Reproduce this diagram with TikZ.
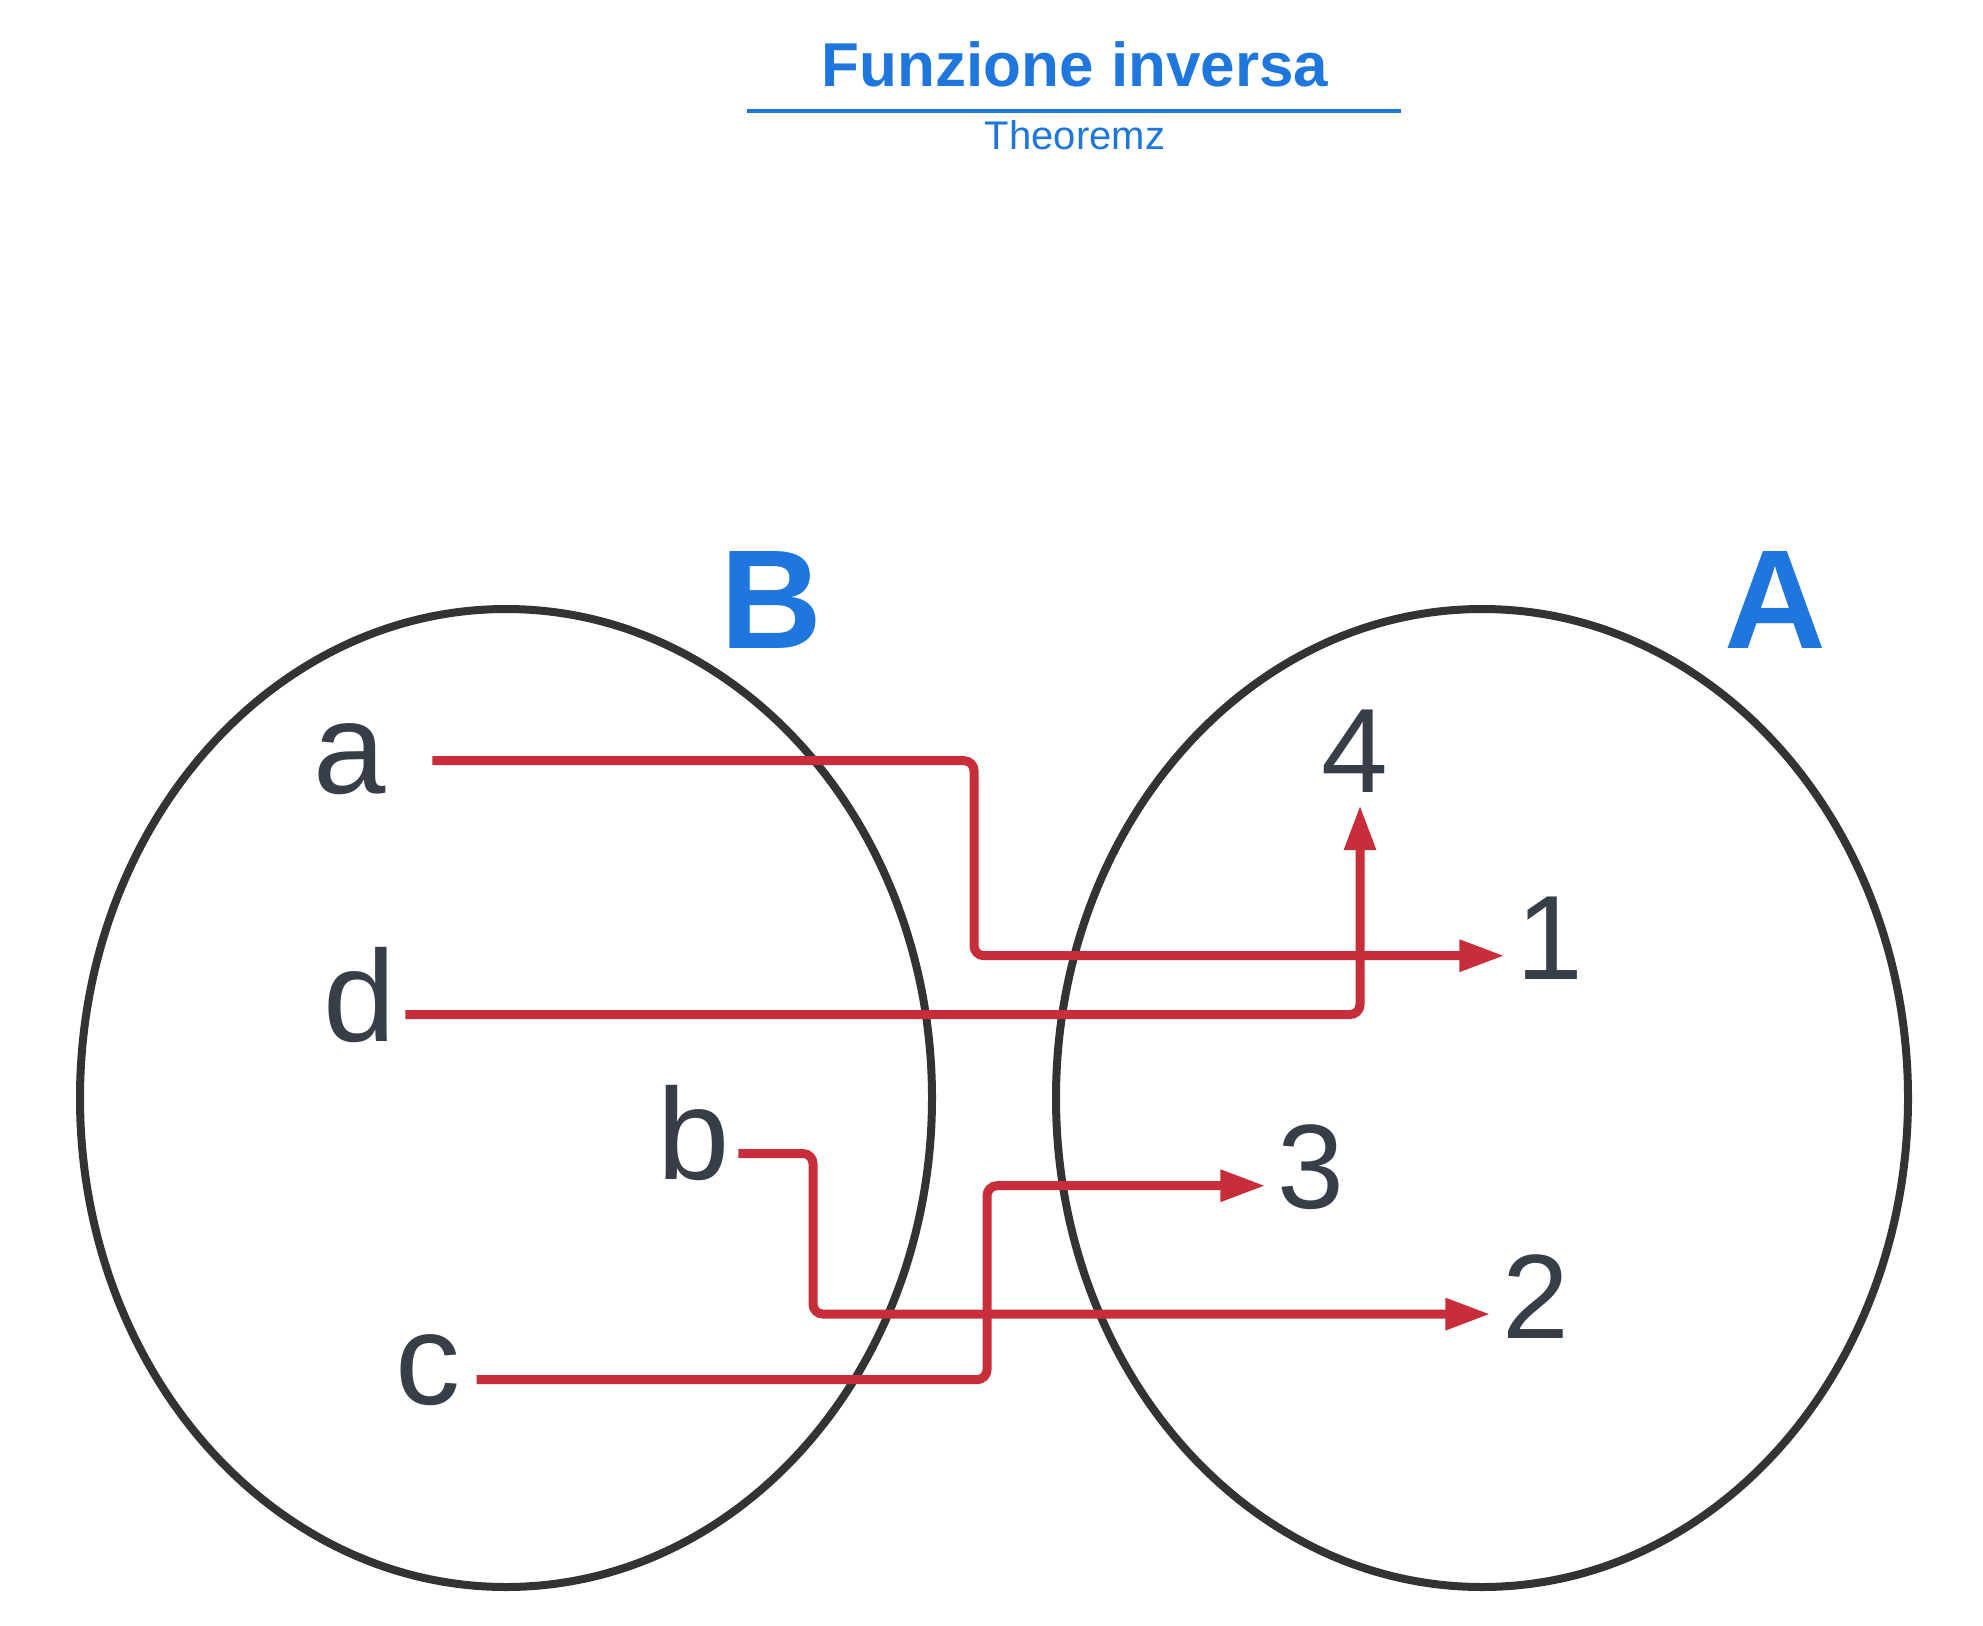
\documentclass[tikz,border=0pt]{standalone}
\usepackage{fontspec}
\setmainfont{Liberation Sans}
\usetikzlibrary{arrows.meta}
\definecolor{tzblue}{RGB}{31,119,221}
\definecolor{tzred}{RGB}{200,45,58}
\definecolor{tzgray}{RGB}{56,62,72}
\definecolor{tzdark}{RGB}{51,51,51}

\begin{document}
\begin{tikzpicture}[x=1pt, y=-1pt,
    setline/.style={draw=tzdark, line width=8pt},
    lbl/.style={inner sep=0pt, anchor=base, text=tzgray, font=\fontsize{130}{150}\selectfont},
    num/.style={inner sep=0pt, anchor=base, text=tzgray, font=\fontsize{120}{140}\selectfont},
    setname/.style={inner sep=0pt, anchor=base, text=tzblue, font=\bfseries\fontsize{141}{160}\selectfont},
    arr/.style={-{Triangle[length=45pt,width=30pt]}, draw=tzred, line width=9pt, rounded corners=10pt}
]
\useasboundingbox (0,0) rectangle (1983,1625);

% title
\node[inner sep=0pt, anchor=base, text=tzblue, font=\bfseries\fontsize{62}{70}\selectfont] (title) at (1075,86) {Funzione inversa};
\draw[tzblue, line width=4.5pt] (747,111) -- (1401,111);
\node[inner sep=0pt, anchor=base, text=tzblue, font=\fontsize{40}{48}\selectfont] (sub) at (1075,149) {Theoremz};

% the two sets
\draw[setline] (506,1098) ellipse [x radius=426, y radius=489];
\draw[setline] (1482,1098) ellipse [x radius=426, y radius=489];
\node[setname] (B) at (771,648) {B};
\node[setname] (A) at (1775,648) {A};

% elements
\node[lbl] (a) at (350,793) {a};
\node[lbl] (d) at (360,1041) {d};
\node[lbl] (b) at (694,1179) {b};
\node[lbl] (c) at (428,1404) {c};
\node[num] (n4) at (1355,792) {4};
\node[num] (n1) at (1550,979) {1};
\node[num] (n3) at (1311,1208) {3};
\node[num] (n2) at (1536,1338) {2};

% arrow ends and bends
\coordinate (t1) at ([xshift=-12pt,yshift=-18pt]n1.west);
\coordinate (t2) at ([xshift=-12pt,yshift=-18pt]n2.west);
\coordinate (t3) at ([xshift=-12pt,yshift=-19pt]n3.west);
\coordinate (ka) at (974,0);
\coordinate (kb) at (813,0);
\coordinate (kc) at (987,0);

% inverse map
\draw[arr] ([xshift=46pt,yshift=-2pt]a.east) -| (ka |- t1) -- (t1);
\draw[arr] ([xshift=9pt,yshift=-20pt]d.east) -| ([xshift=5pt,yshift=-13pt]n4.south);
\draw[arr] ([xshift=8pt,yshift=-21pt]b.east) -| (kb |- t2) -- (t2);
\draw[arr] ([xshift=16pt,yshift=-10pt]c.east) -| (kc |- t3) -- (t3);
\end{tikzpicture}
\end{document}
